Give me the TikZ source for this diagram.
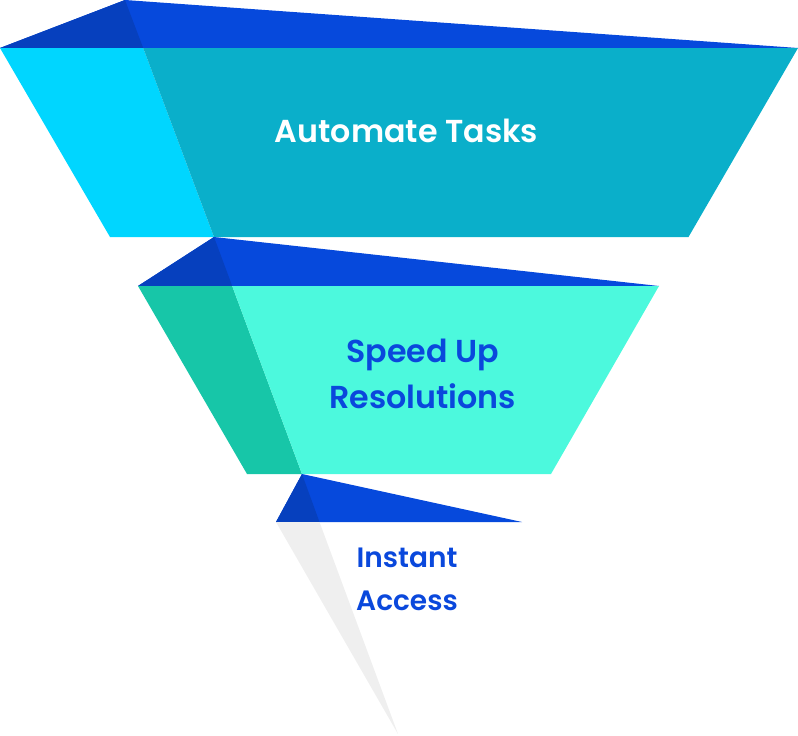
\documentclass[tikz,border=0pt]{standalone}
\usepackage{fontspec}
\newfontfamily\pop{Poppins SemiBold}
\definecolor{tipblue}{HTML}{0649DC}
\definecolor{tipdark}{HTML}{0640BE}
\definecolor{cyanL}{HTML}{00D6FF}
\definecolor{tealR}{HTML}{0AAFCA}
\definecolor{greenL}{HTML}{17C6A8}
\definecolor{aquaR}{HTML}{4CF9DD}
\definecolor{ghost}{HTML}{EFEFEF}
\definecolor{labelblue}{HTML}{0A48DC}
\tikzset{
  lbl/.style={font=\pop\fontsize{31.7}{46}\selectfont, align=center, anchor=base, inner sep=0pt},
}
\begin{document}
\begin{tikzpicture}[x=1pt,y=-1pt]
\useasboundingbox (0,0) rectangle (798,736);
% level 1
\fill[tipblue] (0,48) -- (125,0) -- (798,48) -- cycle;
\fill[tipdark] (0,48) -- (125,0) -- (143.2,48) -- cycle;
\fill[cyanL] (0,48) -- (143.2,48) -- (214,237) -- (110,237) -- cycle;
\fill[tealR] (143.2,48) -- (798,48) -- (688.5,237) -- (214,237) -- cycle;
% level 2
\fill[tipblue] (138,286) -- (214,237) -- (659,286) -- cycle;
\fill[tipdark] (138,286) -- (214,237) -- (232.2,286) -- cycle;
\fill[greenL] (138,286) -- (232.2,286) -- (302,474) -- (247,474) -- cycle;
\fill[aquaR] (232.2,286) -- (659,286) -- (551,474) -- (302,474) -- cycle;
% level 3
\fill[tipblue] (276,522) -- (302,474) -- (522,522) -- cycle;
\fill[tipdark] (276,522) -- (302,474) -- (319.5,522) -- cycle;
\fill[ghost] (276,522) -- (319.5,522) -- (398,734) -- cycle;
% labels
\node[lbl, text=white] (t1) at (406.5,142) {Automate Tasks};
\node[lbl, text=labelblue] (t2) at (422.5,408) {Speed Up\\Resolutions};
\node[lbl, text=labelblue, font=\pop\fontsize{28}{43}\selectfont] (t3) at (407,610) {Instant\\Access};
\end{tikzpicture}
\end{document}
